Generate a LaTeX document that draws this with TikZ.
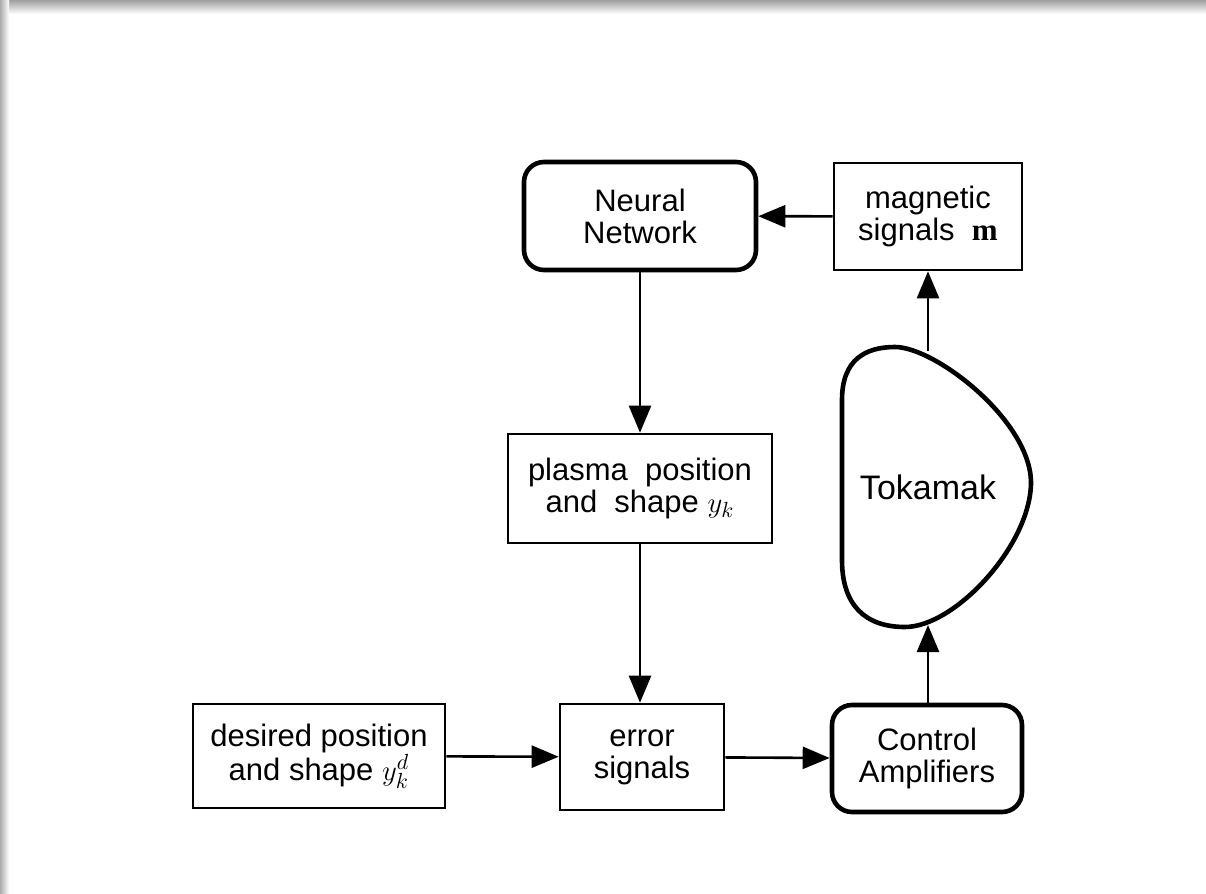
\documentclass[tikz,border=0pt]{standalone}
\usepackage{fontspec}
\setmainfont{Liberation Sans}
\newfontfamily\serifbold{Liberation Serif}
\usetikzlibrary{arrows.meta}
\begin{document}
\begin{tikzpicture}[x=0.5pt,y=-0.5pt,
  box/.style={draw, line width=1.3pt, align=center, inner sep=0pt,
              font=\fontsize{15.5}{16}\selectfont},
  rbox/.style={box, line width=2.3pt, rounded corners=10pt},
  link/.style={line width=1.3pt, -{Triangle[length=13.5pt,width=11pt]}},
  frame/.style={line width=2.3pt}]
\useasboundingbox (0,0) rectangle (1206,894);
% page with soft shadow along the top and left edges
\fill[white] (0,0) rectangle (1206,894);
\shade[top color=gray!75, bottom color=white] (0,0) rectangle (1206,14);
\shade[left color=gray!65, right color=white] (0,0) rectangle (9,894);

% blocks
\node[rbox, minimum width=116pt, minimum height=54pt] (nn) at (640,216) {Neural\\Network};
\node[box, minimum width=94pt, minimum height=53.5pt] (mag) at (928,216.5) {magnetic\\signals\ \ {\serifbold\bfseries m}};
\node[box, minimum width=132pt, minimum height=54.5pt] (plasma) at (640,488.5) {plasma\ \ position\\and\ \ shape $y_k$};
\node[box, minimum width=126pt, minimum height=52pt] (desired) at (319,756) {desired position\\and shape $y^{d}_{k}$};
\node[box, minimum width=82pt, minimum height=53pt] (err) at (642,757) {error\\signals};
\node[rbox, minimum width=95pt, minimum height=53.5pt] (ca) at (927,758.5) {Control\\Amplifiers};

% tokamak cross-section
\draw[frame] (842,400) .. controls (842,360) and (865,347) .. (895,347)
  .. controls (935,347) and (1030,420) .. (1031,482)
  .. controls (1031,545) and (955,627) .. (905,627)
  .. controls (865,627) and (842,605) .. (842,560) -- cycle;
\node[font=\fontsize{17}{17}\selectfont] (tok) at (928,487) {Tokamak};
\coordinate (toktop) at (928,351);
\coordinate (tokbot) at (928,625);

% signal flow
\draw[link] (mag) -- (nn);
\draw[link] (nn) -- (plasma);
\draw[link] (plasma.south) -- (plasma.south |- err.north);
\draw[link] (desired) -- (err);
\draw[link] (err) -- (ca);
\draw[link] (ca.north -| tokbot) -- (tokbot);
\draw[link] (toktop) -- (toktop |- mag.south);
\end{tikzpicture}
\end{document}
